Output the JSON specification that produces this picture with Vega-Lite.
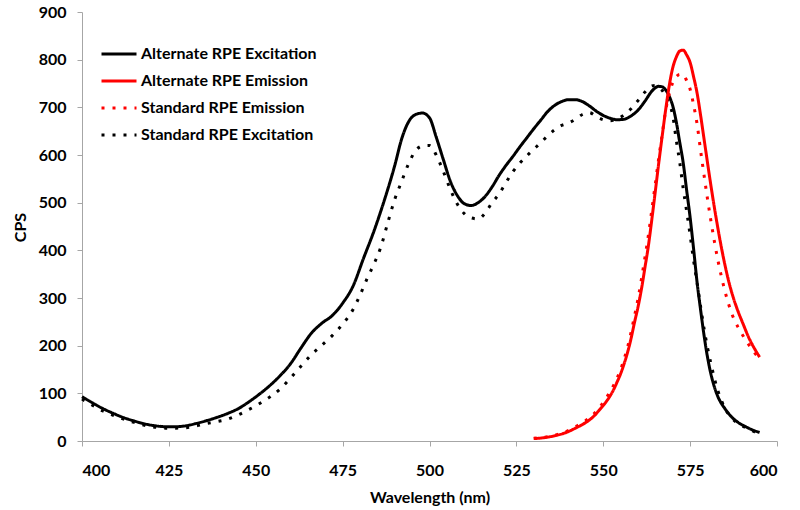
{
  "$schema": "https://vega.github.io/schema/vega-lite/v6.json",
  "width": 695,
  "height": 429,
  "autosize": {"type": "none"},
  "padding": {"left": 82, "top": 12, "right": 23, "bottom": 69},
  "background": "#ffffff",
  "data": {
    "values": [
      {"series": "Standard RPE Excitation", "wavelength": 400, "cps": 88},
      {"series": "Standard RPE Excitation", "wavelength": 403, "cps": 75},
      {"series": "Standard RPE Excitation", "wavelength": 406, "cps": 63},
      {"series": "Standard RPE Excitation", "wavelength": 409, "cps": 54},
      {"series": "Standard RPE Excitation", "wavelength": 412, "cps": 46},
      {"series": "Standard RPE Excitation", "wavelength": 415, "cps": 39},
      {"series": "Standard RPE Excitation", "wavelength": 418, "cps": 33},
      {"series": "Standard RPE Excitation", "wavelength": 421, "cps": 29},
      {"series": "Standard RPE Excitation", "wavelength": 424, "cps": 27},
      {"series": "Standard RPE Excitation", "wavelength": 427, "cps": 27},
      {"series": "Standard RPE Excitation", "wavelength": 430, "cps": 28},
      {"series": "Standard RPE Excitation", "wavelength": 433, "cps": 32},
      {"series": "Standard RPE Excitation", "wavelength": 436, "cps": 37},
      {"series": "Standard RPE Excitation", "wavelength": 439, "cps": 41},
      {"series": "Standard RPE Excitation", "wavelength": 442, "cps": 46},
      {"series": "Standard RPE Excitation", "wavelength": 445, "cps": 55},
      {"series": "Standard RPE Excitation", "wavelength": 448, "cps": 66},
      {"series": "Standard RPE Excitation", "wavelength": 451, "cps": 78},
      {"series": "Standard RPE Excitation", "wavelength": 454, "cps": 92},
      {"series": "Standard RPE Excitation", "wavelength": 457, "cps": 109},
      {"series": "Standard RPE Excitation", "wavelength": 460, "cps": 132},
      {"series": "Standard RPE Excitation", "wavelength": 463, "cps": 157},
      {"series": "Standard RPE Excitation", "wavelength": 466, "cps": 181},
      {"series": "Standard RPE Excitation", "wavelength": 469, "cps": 201},
      {"series": "Standard RPE Excitation", "wavelength": 472, "cps": 221},
      {"series": "Standard RPE Excitation", "wavelength": 475, "cps": 245},
      {"series": "Standard RPE Excitation", "wavelength": 478, "cps": 276},
      {"series": "Standard RPE Excitation", "wavelength": 480, "cps": 306},
      {"series": "Standard RPE Excitation", "wavelength": 482, "cps": 340},
      {"series": "Standard RPE Excitation", "wavelength": 484, "cps": 371},
      {"series": "Standard RPE Excitation", "wavelength": 486, "cps": 407},
      {"series": "Standard RPE Excitation", "wavelength": 488, "cps": 458},
      {"series": "Standard RPE Excitation", "wavelength": 490, "cps": 507},
      {"series": "Standard RPE Excitation", "wavelength": 492, "cps": 545},
      {"series": "Standard RPE Excitation", "wavelength": 494, "cps": 582},
      {"series": "Standard RPE Excitation", "wavelength": 496, "cps": 609},
      {"series": "Standard RPE Excitation", "wavelength": 498, "cps": 619},
      {"series": "Standard RPE Excitation", "wavelength": 500, "cps": 620},
      {"series": "Standard RPE Excitation", "wavelength": 502, "cps": 599},
      {"series": "Standard RPE Excitation", "wavelength": 504, "cps": 565},
      {"series": "Standard RPE Excitation", "wavelength": 506, "cps": 528},
      {"series": "Standard RPE Excitation", "wavelength": 508, "cps": 497},
      {"series": "Standard RPE Excitation", "wavelength": 510, "cps": 477},
      {"series": "Standard RPE Excitation", "wavelength": 512, "cps": 468},
      {"series": "Standard RPE Excitation", "wavelength": 514, "cps": 466},
      {"series": "Standard RPE Excitation", "wavelength": 516, "cps": 478},
      {"series": "Standard RPE Excitation", "wavelength": 518, "cps": 500},
      {"series": "Standard RPE Excitation", "wavelength": 520, "cps": 518},
      {"series": "Standard RPE Excitation", "wavelength": 522, "cps": 542},
      {"series": "Standard RPE Excitation", "wavelength": 524, "cps": 565},
      {"series": "Standard RPE Excitation", "wavelength": 526, "cps": 583},
      {"series": "Standard RPE Excitation", "wavelength": 528, "cps": 598},
      {"series": "Standard RPE Excitation", "wavelength": 530, "cps": 612},
      {"series": "Standard RPE Excitation", "wavelength": 532, "cps": 626},
      {"series": "Standard RPE Excitation", "wavelength": 534, "cps": 640},
      {"series": "Standard RPE Excitation", "wavelength": 536, "cps": 653},
      {"series": "Standard RPE Excitation", "wavelength": 538, "cps": 662},
      {"series": "Standard RPE Excitation", "wavelength": 540, "cps": 667},
      {"series": "Standard RPE Excitation", "wavelength": 542, "cps": 675},
      {"series": "Standard RPE Excitation", "wavelength": 544, "cps": 685},
      {"series": "Standard RPE Excitation", "wavelength": 546, "cps": 689},
      {"series": "Standard RPE Excitation", "wavelength": 548, "cps": 681},
      {"series": "Standard RPE Excitation", "wavelength": 550, "cps": 674},
      {"series": "Standard RPE Excitation", "wavelength": 552, "cps": 672},
      {"series": "Standard RPE Excitation", "wavelength": 554, "cps": 676},
      {"series": "Standard RPE Excitation", "wavelength": 556, "cps": 684},
      {"series": "Standard RPE Excitation", "wavelength": 558, "cps": 697},
      {"series": "Standard RPE Excitation", "wavelength": 560, "cps": 714},
      {"series": "Standard RPE Excitation", "wavelength": 562, "cps": 732},
      {"series": "Standard RPE Excitation", "wavelength": 564, "cps": 745},
      {"series": "Standard RPE Excitation", "wavelength": 565, "cps": 746},
      {"series": "Standard RPE Excitation", "wavelength": 566, "cps": 741},
      {"series": "Standard RPE Excitation", "wavelength": 567, "cps": 735},
      {"series": "Standard RPE Excitation", "wavelength": 568, "cps": 722},
      {"series": "Standard RPE Excitation", "wavelength": 569, "cps": 708},
      {"series": "Standard RPE Excitation", "wavelength": 570, "cps": 683},
      {"series": "Standard RPE Excitation", "wavelength": 571, "cps": 632},
      {"series": "Standard RPE Excitation", "wavelength": 572, "cps": 585},
      {"series": "Standard RPE Excitation", "wavelength": 573, "cps": 530},
      {"series": "Standard RPE Excitation", "wavelength": 574, "cps": 482},
      {"series": "Standard RPE Excitation", "wavelength": 575, "cps": 432},
      {"series": "Standard RPE Excitation", "wavelength": 576, "cps": 379},
      {"series": "Standard RPE Excitation", "wavelength": 577, "cps": 332},
      {"series": "Standard RPE Excitation", "wavelength": 578, "cps": 283},
      {"series": "Standard RPE Excitation", "wavelength": 579, "cps": 236},
      {"series": "Standard RPE Excitation", "wavelength": 580, "cps": 196},
      {"series": "Standard RPE Excitation", "wavelength": 581, "cps": 162},
      {"series": "Standard RPE Excitation", "wavelength": 582, "cps": 131},
      {"series": "Standard RPE Excitation", "wavelength": 583, "cps": 105},
      {"series": "Standard RPE Excitation", "wavelength": 584, "cps": 85},
      {"series": "Standard RPE Excitation", "wavelength": 585, "cps": 69},
      {"series": "Standard RPE Excitation", "wavelength": 587, "cps": 48},
      {"series": "Standard RPE Excitation", "wavelength": 589, "cps": 36},
      {"series": "Standard RPE Excitation", "wavelength": 591, "cps": 28},
      {"series": "Standard RPE Excitation", "wavelength": 593, "cps": 21},
      {"series": "Standard RPE Excitation", "wavelength": 595, "cps": 14},

      {"series": "Alternate RPE Excitation", "wavelength": 400, "cps": 93},
      {"series": "Alternate RPE Excitation", "wavelength": 403, "cps": 80},
      {"series": "Alternate RPE Excitation", "wavelength": 406, "cps": 68},
      {"series": "Alternate RPE Excitation", "wavelength": 409, "cps": 58},
      {"series": "Alternate RPE Excitation", "wavelength": 412, "cps": 49},
      {"series": "Alternate RPE Excitation", "wavelength": 415, "cps": 42},
      {"series": "Alternate RPE Excitation", "wavelength": 418, "cps": 36},
      {"series": "Alternate RPE Excitation", "wavelength": 421, "cps": 32},
      {"series": "Alternate RPE Excitation", "wavelength": 424, "cps": 30},
      {"series": "Alternate RPE Excitation", "wavelength": 427, "cps": 30},
      {"series": "Alternate RPE Excitation", "wavelength": 430, "cps": 32},
      {"series": "Alternate RPE Excitation", "wavelength": 433, "cps": 37},
      {"series": "Alternate RPE Excitation", "wavelength": 436, "cps": 43},
      {"series": "Alternate RPE Excitation", "wavelength": 439, "cps": 50},
      {"series": "Alternate RPE Excitation", "wavelength": 442, "cps": 58},
      {"series": "Alternate RPE Excitation", "wavelength": 445, "cps": 68},
      {"series": "Alternate RPE Excitation", "wavelength": 448, "cps": 82},
      {"series": "Alternate RPE Excitation", "wavelength": 451, "cps": 98},
      {"series": "Alternate RPE Excitation", "wavelength": 454, "cps": 116},
      {"series": "Alternate RPE Excitation", "wavelength": 457, "cps": 137},
      {"series": "Alternate RPE Excitation", "wavelength": 460, "cps": 162},
      {"series": "Alternate RPE Excitation", "wavelength": 463, "cps": 195},
      {"series": "Alternate RPE Excitation", "wavelength": 466, "cps": 226},
      {"series": "Alternate RPE Excitation", "wavelength": 469, "cps": 247},
      {"series": "Alternate RPE Excitation", "wavelength": 472, "cps": 263},
      {"series": "Alternate RPE Excitation", "wavelength": 475, "cps": 289},
      {"series": "Alternate RPE Excitation", "wavelength": 478, "cps": 325},
      {"series": "Alternate RPE Excitation", "wavelength": 481, "cps": 383},
      {"series": "Alternate RPE Excitation", "wavelength": 484, "cps": 440},
      {"series": "Alternate RPE Excitation", "wavelength": 487, "cps": 505},
      {"series": "Alternate RPE Excitation", "wavelength": 490, "cps": 578},
      {"series": "Alternate RPE Excitation", "wavelength": 492, "cps": 634},
      {"series": "Alternate RPE Excitation", "wavelength": 494, "cps": 670},
      {"series": "Alternate RPE Excitation", "wavelength": 496, "cps": 685},
      {"series": "Alternate RPE Excitation", "wavelength": 498, "cps": 688},
      {"series": "Alternate RPE Excitation", "wavelength": 500, "cps": 678},
      {"series": "Alternate RPE Excitation", "wavelength": 502, "cps": 636},
      {"series": "Alternate RPE Excitation", "wavelength": 504, "cps": 590},
      {"series": "Alternate RPE Excitation", "wavelength": 506, "cps": 545},
      {"series": "Alternate RPE Excitation", "wavelength": 508, "cps": 515},
      {"series": "Alternate RPE Excitation", "wavelength": 510, "cps": 498},
      {"series": "Alternate RPE Excitation", "wavelength": 512, "cps": 494},
      {"series": "Alternate RPE Excitation", "wavelength": 514, "cps": 500},
      {"series": "Alternate RPE Excitation", "wavelength": 516, "cps": 513},
      {"series": "Alternate RPE Excitation", "wavelength": 518, "cps": 533},
      {"series": "Alternate RPE Excitation", "wavelength": 520, "cps": 557},
      {"series": "Alternate RPE Excitation", "wavelength": 522, "cps": 578},
      {"series": "Alternate RPE Excitation", "wavelength": 524, "cps": 597},
      {"series": "Alternate RPE Excitation", "wavelength": 526, "cps": 617},
      {"series": "Alternate RPE Excitation", "wavelength": 528, "cps": 636},
      {"series": "Alternate RPE Excitation", "wavelength": 530, "cps": 655},
      {"series": "Alternate RPE Excitation", "wavelength": 532, "cps": 673},
      {"series": "Alternate RPE Excitation", "wavelength": 534, "cps": 691},
      {"series": "Alternate RPE Excitation", "wavelength": 536, "cps": 704},
      {"series": "Alternate RPE Excitation", "wavelength": 538, "cps": 712},
      {"series": "Alternate RPE Excitation", "wavelength": 540, "cps": 716},
      {"series": "Alternate RPE Excitation", "wavelength": 542, "cps": 716},
      {"series": "Alternate RPE Excitation", "wavelength": 544, "cps": 712},
      {"series": "Alternate RPE Excitation", "wavelength": 546, "cps": 703},
      {"series": "Alternate RPE Excitation", "wavelength": 548, "cps": 692},
      {"series": "Alternate RPE Excitation", "wavelength": 550, "cps": 683},
      {"series": "Alternate RPE Excitation", "wavelength": 552, "cps": 677},
      {"series": "Alternate RPE Excitation", "wavelength": 554, "cps": 674},
      {"series": "Alternate RPE Excitation", "wavelength": 556, "cps": 675},
      {"series": "Alternate RPE Excitation", "wavelength": 558, "cps": 682},
      {"series": "Alternate RPE Excitation", "wavelength": 560, "cps": 694},
      {"series": "Alternate RPE Excitation", "wavelength": 562, "cps": 713},
      {"series": "Alternate RPE Excitation", "wavelength": 564, "cps": 734},
      {"series": "Alternate RPE Excitation", "wavelength": 566, "cps": 744},
      {"series": "Alternate RPE Excitation", "wavelength": 567, "cps": 743},
      {"series": "Alternate RPE Excitation", "wavelength": 568, "cps": 736},
      {"series": "Alternate RPE Excitation", "wavelength": 569, "cps": 723},
      {"series": "Alternate RPE Excitation", "wavelength": 570, "cps": 703},
      {"series": "Alternate RPE Excitation", "wavelength": 571, "cps": 670},
      {"series": "Alternate RPE Excitation", "wavelength": 572, "cps": 627},
      {"series": "Alternate RPE Excitation", "wavelength": 573, "cps": 584},
      {"series": "Alternate RPE Excitation", "wavelength": 574, "cps": 526},
      {"series": "Alternate RPE Excitation", "wavelength": 575, "cps": 469},
      {"series": "Alternate RPE Excitation", "wavelength": 576, "cps": 403},
      {"series": "Alternate RPE Excitation", "wavelength": 577, "cps": 333},
      {"series": "Alternate RPE Excitation", "wavelength": 578, "cps": 276},
      {"series": "Alternate RPE Excitation", "wavelength": 579, "cps": 222},
      {"series": "Alternate RPE Excitation", "wavelength": 580, "cps": 176},
      {"series": "Alternate RPE Excitation", "wavelength": 581, "cps": 140},
      {"series": "Alternate RPE Excitation", "wavelength": 582, "cps": 113},
      {"series": "Alternate RPE Excitation", "wavelength": 583, "cps": 93},
      {"series": "Alternate RPE Excitation", "wavelength": 585, "cps": 68},
      {"series": "Alternate RPE Excitation", "wavelength": 587, "cps": 50},
      {"series": "Alternate RPE Excitation", "wavelength": 589, "cps": 38},
      {"series": "Alternate RPE Excitation", "wavelength": 591, "cps": 30},
      {"series": "Alternate RPE Excitation", "wavelength": 593, "cps": 23},
      {"series": "Alternate RPE Excitation", "wavelength": 595, "cps": 18},

      {"series": "Standard RPE Emission", "wavelength": 530, "cps": 6},
      {"series": "Standard RPE Emission", "wavelength": 533, "cps": 8},
      {"series": "Standard RPE Emission", "wavelength": 536, "cps": 12},
      {"series": "Standard RPE Emission", "wavelength": 539, "cps": 19},
      {"series": "Standard RPE Emission", "wavelength": 542, "cps": 30},
      {"series": "Standard RPE Emission", "wavelength": 545, "cps": 43},
      {"series": "Standard RPE Emission", "wavelength": 547, "cps": 55},
      {"series": "Standard RPE Emission", "wavelength": 549, "cps": 71},
      {"series": "Standard RPE Emission", "wavelength": 551, "cps": 92},
      {"series": "Standard RPE Emission", "wavelength": 553, "cps": 117},
      {"series": "Standard RPE Emission", "wavelength": 555, "cps": 150},
      {"series": "Standard RPE Emission", "wavelength": 556, "cps": 172},
      {"series": "Standard RPE Emission", "wavelength": 557, "cps": 197},
      {"series": "Standard RPE Emission", "wavelength": 558, "cps": 228},
      {"series": "Standard RPE Emission", "wavelength": 559, "cps": 262},
      {"series": "Standard RPE Emission", "wavelength": 560, "cps": 298},
      {"series": "Standard RPE Emission", "wavelength": 561, "cps": 340},
      {"series": "Standard RPE Emission", "wavelength": 562, "cps": 385},
      {"series": "Standard RPE Emission", "wavelength": 563, "cps": 432},
      {"series": "Standard RPE Emission", "wavelength": 564, "cps": 486},
      {"series": "Standard RPE Emission", "wavelength": 565, "cps": 540},
      {"series": "Standard RPE Emission", "wavelength": 566, "cps": 595},
      {"series": "Standard RPE Emission", "wavelength": 567, "cps": 645},
      {"series": "Standard RPE Emission", "wavelength": 568, "cps": 695},
      {"series": "Standard RPE Emission", "wavelength": 569, "cps": 728},
      {"series": "Standard RPE Emission", "wavelength": 570, "cps": 752},
      {"series": "Standard RPE Emission", "wavelength": 571, "cps": 764},
      {"series": "Standard RPE Emission", "wavelength": 572, "cps": 769},
      {"series": "Standard RPE Emission", "wavelength": 573, "cps": 769},
      {"series": "Standard RPE Emission", "wavelength": 574, "cps": 756},
      {"series": "Standard RPE Emission", "wavelength": 575, "cps": 738},
      {"series": "Standard RPE Emission", "wavelength": 576, "cps": 705},
      {"series": "Standard RPE Emission", "wavelength": 577, "cps": 665},
      {"series": "Standard RPE Emission", "wavelength": 578, "cps": 610},
      {"series": "Standard RPE Emission", "wavelength": 579, "cps": 558},
      {"series": "Standard RPE Emission", "wavelength": 580, "cps": 508},
      {"series": "Standard RPE Emission", "wavelength": 581, "cps": 461},
      {"series": "Standard RPE Emission", "wavelength": 582, "cps": 418},
      {"series": "Standard RPE Emission", "wavelength": 583, "cps": 379},
      {"series": "Standard RPE Emission", "wavelength": 584, "cps": 345},
      {"series": "Standard RPE Emission", "wavelength": 585, "cps": 315},
      {"series": "Standard RPE Emission", "wavelength": 586, "cps": 289},
      {"series": "Standard RPE Emission", "wavelength": 587, "cps": 267},
      {"series": "Standard RPE Emission", "wavelength": 589, "cps": 236},
      {"series": "Standard RPE Emission", "wavelength": 591, "cps": 212},
      {"series": "Standard RPE Emission", "wavelength": 593, "cps": 190},
      {"series": "Standard RPE Emission", "wavelength": 595, "cps": 173},

      {"series": "Alternate RPE Emission", "wavelength": 530, "cps": 5},
      {"series": "Alternate RPE Emission", "wavelength": 533, "cps": 7},
      {"series": "Alternate RPE Emission", "wavelength": 536, "cps": 11},
      {"series": "Alternate RPE Emission", "wavelength": 539, "cps": 17},
      {"series": "Alternate RPE Emission", "wavelength": 542, "cps": 27},
      {"series": "Alternate RPE Emission", "wavelength": 545, "cps": 39},
      {"series": "Alternate RPE Emission", "wavelength": 547, "cps": 50},
      {"series": "Alternate RPE Emission", "wavelength": 549, "cps": 66},
      {"series": "Alternate RPE Emission", "wavelength": 551, "cps": 84},
      {"series": "Alternate RPE Emission", "wavelength": 552, "cps": 95},
      {"series": "Alternate RPE Emission", "wavelength": 553, "cps": 108},
      {"series": "Alternate RPE Emission", "wavelength": 554, "cps": 124},
      {"series": "Alternate RPE Emission", "wavelength": 555, "cps": 141},
      {"series": "Alternate RPE Emission", "wavelength": 556, "cps": 162},
      {"series": "Alternate RPE Emission", "wavelength": 557, "cps": 186},
      {"series": "Alternate RPE Emission", "wavelength": 558, "cps": 215},
      {"series": "Alternate RPE Emission", "wavelength": 559, "cps": 249},
      {"series": "Alternate RPE Emission", "wavelength": 560, "cps": 281},
      {"series": "Alternate RPE Emission", "wavelength": 561, "cps": 319},
      {"series": "Alternate RPE Emission", "wavelength": 562, "cps": 364},
      {"series": "Alternate RPE Emission", "wavelength": 563, "cps": 410},
      {"series": "Alternate RPE Emission", "wavelength": 564, "cps": 466},
      {"series": "Alternate RPE Emission", "wavelength": 565, "cps": 525},
      {"series": "Alternate RPE Emission", "wavelength": 566, "cps": 585},
      {"series": "Alternate RPE Emission", "wavelength": 567, "cps": 642},
      {"series": "Alternate RPE Emission", "wavelength": 568, "cps": 697},
      {"series": "Alternate RPE Emission", "wavelength": 569, "cps": 746},
      {"series": "Alternate RPE Emission", "wavelength": 570, "cps": 783},
      {"series": "Alternate RPE Emission", "wavelength": 571, "cps": 805},
      {"series": "Alternate RPE Emission", "wavelength": 572, "cps": 818},
      {"series": "Alternate RPE Emission", "wavelength": 573, "cps": 820},
      {"series": "Alternate RPE Emission", "wavelength": 574, "cps": 810},
      {"series": "Alternate RPE Emission", "wavelength": 575, "cps": 794},
      {"series": "Alternate RPE Emission", "wavelength": 576, "cps": 764},
      {"series": "Alternate RPE Emission", "wavelength": 577, "cps": 730},
      {"series": "Alternate RPE Emission", "wavelength": 578, "cps": 684},
      {"series": "Alternate RPE Emission", "wavelength": 579, "cps": 634},
      {"series": "Alternate RPE Emission", "wavelength": 580, "cps": 584},
      {"series": "Alternate RPE Emission", "wavelength": 581, "cps": 535},
      {"series": "Alternate RPE Emission", "wavelength": 582, "cps": 489},
      {"series": "Alternate RPE Emission", "wavelength": 583, "cps": 446},
      {"series": "Alternate RPE Emission", "wavelength": 584, "cps": 406},
      {"series": "Alternate RPE Emission", "wavelength": 585, "cps": 370},
      {"series": "Alternate RPE Emission", "wavelength": 586, "cps": 338},
      {"series": "Alternate RPE Emission", "wavelength": 587, "cps": 311},
      {"series": "Alternate RPE Emission", "wavelength": 588, "cps": 288},
      {"series": "Alternate RPE Emission", "wavelength": 589, "cps": 268},
      {"series": "Alternate RPE Emission", "wavelength": 590, "cps": 250},
      {"series": "Alternate RPE Emission", "wavelength": 592, "cps": 215},
      {"series": "Alternate RPE Emission", "wavelength": 594, "cps": 188},
      {"series": "Alternate RPE Emission", "wavelength": 595, "cps": 176}
    ]
  },
  "mark": {"type": "line", "interpolate": "monotone", "strokeWidth": 3},
  "encoding": {
    "x": {
      "field": "wavelength",
      "type": "quantitative",
      "scale": {"domain": [400, 600], "nice": false},
      "title": "Wavelength (nm)",
      "axis": {
        "values": [400, 425, 450, 475, 500, 525, 550, 575, 600],
        "labelPadding": 16,
        "titleY": 61,
        "titleBaseline": "alphabetic"
      }
    },
    "y": {
      "field": "cps",
      "type": "quantitative",
      "scale": {"domain": [0, 900], "nice": false},
      "title": "CPS",
      "axis": {
        "values": [0, 100, 200, 300, 400, 500, 600, 700, 800, 900],
        "labelPadding": 11,
        "titleX": -57,
        "titleY": 215,
        "titleAngle": -90,
        "titleAlign": "center",
        "titleBaseline": "alphabetic"
      }
    },
    "color": {
      "field": "series",
      "type": "nominal",
      "scale": {
        "domain": ["Alternate RPE Excitation", "Alternate RPE Emission", "Standard RPE Emission", "Standard RPE Excitation"],
        "range": ["#000000", "#ff0000", "#ff0000", "#000000"]
      },
      "legend": {
        "title": null,
        "orient": "none",
        "legendX": 18,
        "legendY": 23
      }
    },
    "strokeDash": {
      "field": "series",
      "type": "nominal",
      "scale": {
        "domain": ["Alternate RPE Excitation", "Alternate RPE Emission", "Standard RPE Emission", "Standard RPE Excitation"],
        "range": [[1, 0], [1, 0], [3, 8], [3, 8]]
      },
      "legend": {
        "title": null,
        "orient": "none",
        "legendX": 18,
        "legendY": 23
      }
    }
  },
  "config": {
    "view": {"stroke": null},
    "font": "Lato",
    "axis": {
      "grid": false,
      "domainColor": "#a6a6a6",
      "domainWidth": 1,
      "tickColor": "#a6a6a6",
      "tickSize": 5,
      "labelFont": "Lato",
      "labelFontWeight": "bold",
      "labelFontSize": 16,
      "labelColor": "#000000",
      "titleFont": "Lato",
      "titleFontWeight": "bold",
      "titleFontSize": 16,
      "titleColor": "#000000"
    },
    "legend": {
      "symbolType": "stroke",
      "symbolSize": 1225,
      "symbolStrokeWidth": 3,
      "labelFont": "Lato",
      "labelFontWeight": "bold",
      "labelFontSize": 16,
      "labelColor": "#000000",
      "labelOffset": 3,
      "rowPadding": -6,
      "padding": 0,
      "labelLimit": 300
    }
  }
}
